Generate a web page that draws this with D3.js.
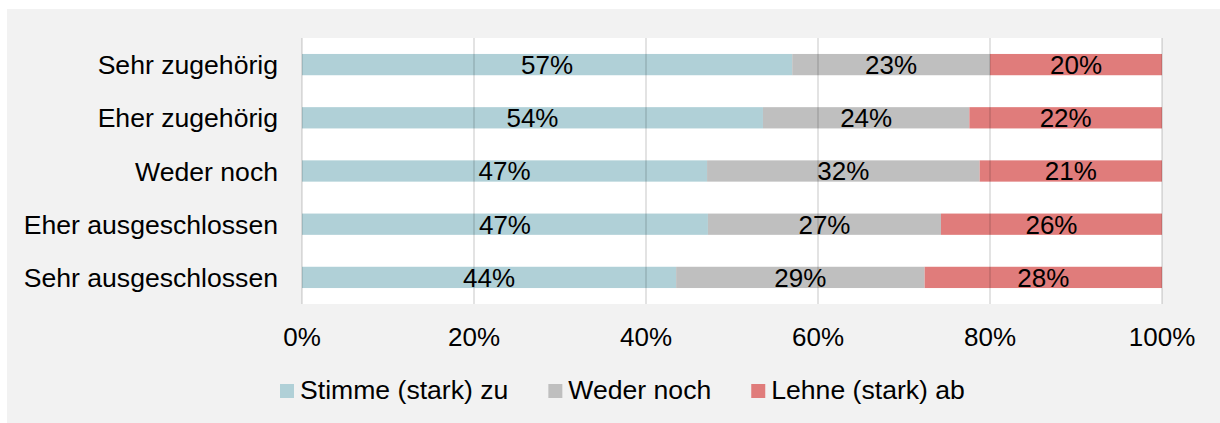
<!DOCTYPE html>
<html>
<head>
<meta charset="utf-8">
<script src="https://cdn.jsdelivr.net/npm/d3@7"></script>
<style>
  body { margin: 0; background: #fff; }
  text { font-family: "Liberation Sans", Arial, sans-serif; fill: #000; }
</style>
</head>
<body>
<div id="chart"></div>
<script>
// chart data
const categories = ["Sehr zugehörig", "Eher zugehörig", "Weder noch", "Eher ausgeschlossen", "Sehr ausgeschlossen"];
const seriesNames = ["Stimme (stark) zu", "Weder noch", "Lehne (stark) ab"];
const agree   = [57.0, 53.6, 47.1, 47.2, 43.5];
const neutral = [23.0, 24.0, 31.7, 27.1, 28.9];
const reject  = [20.0, 22.4, 21.2, 25.7, 27.6];
const labelAgree   = ["57%", "54%", "47%", "47%", "44%"];
const labelNeutral = ["23%", "24%", "32%", "27%", "29%"];
const labelReject  = ["20%", "22%", "21%", "26%", "28%"];
const tickValues = [0, 20, 40, 60, 80, 100];
const colors = ["#b0d0d7", "#bfbfbf", "#e07c7b"];

const canvWidth = 1220, canvHeight = 423;
const svg = d3.select("#chart").append("svg")
    .attr("width", canvWidth)
    .attr("height", canvHeight);

// grey panel
svg.append("rect")
    .attr("x", 7).attr("y", 9)
    .attr("width", canvWidth - 7).attr("height", canvHeight - 9)
    .attr("fill", "#f2f2f2");

const plot = {left: 302, right: 1162, top: 38, bottom: 304};

const x = d3.scaleLinear().domain([0, 100]).range([plot.left, plot.right]);
const y = d3.scaleBand().domain(categories)
    .range([plot.top, plot.bottom])
    .paddingInner(0.6).paddingOuter(0.3);

// white plot area
svg.append("rect")
    .attr("x", plot.left).attr("y", plot.top)
    .attr("width", plot.right - plot.left).attr("height", plot.bottom - plot.top)
    .attr("fill", "#fff");

// stack the series
const rows = categories.map((c, i) => ({cat: c, values: [agree[i], neutral[i], reject[i]],
    labels: [labelAgree[i], labelNeutral[i], labelReject[i]]}));

const segs = [];
rows.forEach(r => {
    let acc = 0;
    r.values.forEach((v, k) => {
        segs.push({cat: r.cat, k: k, x0: acc, x1: acc + v, label: r.labels[k]});
        acc += v;
    });
});

svg.append("g").selectAll("rect")
    .data(segs)
    .join("rect")
      .attr("x", d => x(d.x0))
      .attr("y", d => y(d.cat))
      .attr("width", d => x(d.x1) - x(d.x0))
      .attr("height", y.bandwidth())
      .attr("fill", d => colors[d.k]);

// gridlines drawn over the bars
svg.append("g").selectAll("line")
    .data(tickValues)
    .join("line")
      .attr("x1", d => x(d)).attr("x2", d => x(d))
      .attr("y1", plot.top).attr("y2", plot.bottom)
      .attr("stroke", "rgba(0,0,0,0.15)")
      .attr("stroke-width", 1.5);

// value labels
svg.append("g").selectAll("text")
    .data(segs)
    .join("text")
      .attr("x", d => x((d.x0 + d.x1) / 2))
      .attr("y", d => y(d.cat) + y.bandwidth() / 2)
      .attr("dy", "0.36em")
      .attr("text-anchor", "middle")
      .style("font-size", "26px")
      .text(d => d.label);

// category labels
svg.append("g").selectAll("text")
    .data(categories)
    .join("text")
      .attr("x", plot.left - 24)
      .attr("y", d => y(d) + y.bandwidth() / 2)
      .attr("dy", "0.36em")
      .attr("text-anchor", "end")
      .style("font-size", "26.6px")
      .text(d => d);

// x tick labels
svg.append("g").selectAll("text")
    .data(tickValues)
    .join("text")
      .attr("x", d => x(d))
      .attr("y", plot.bottom + 41.5)
      .attr("text-anchor", "middle")
      .style("font-size", "26px")
      .text(d => d + "%");

// legend
const legend = svg.append("g");
let lx = 280;
seriesNames.forEach((name, k) => {
    legend.append("rect")
        .attr("x", lx).attr("y", 384)
        .attr("width", 14).attr("height", 14)
        .attr("fill", colors[k]);
    const t = legend.append("text")
        .attr("x", lx + 20).attr("y", 398.5)
        .style("font-size", "26.6px")
        .text(name);
    lx += 20 + t.node().getComputedTextLength() + 40;
});
</script>
</body>
</html>
